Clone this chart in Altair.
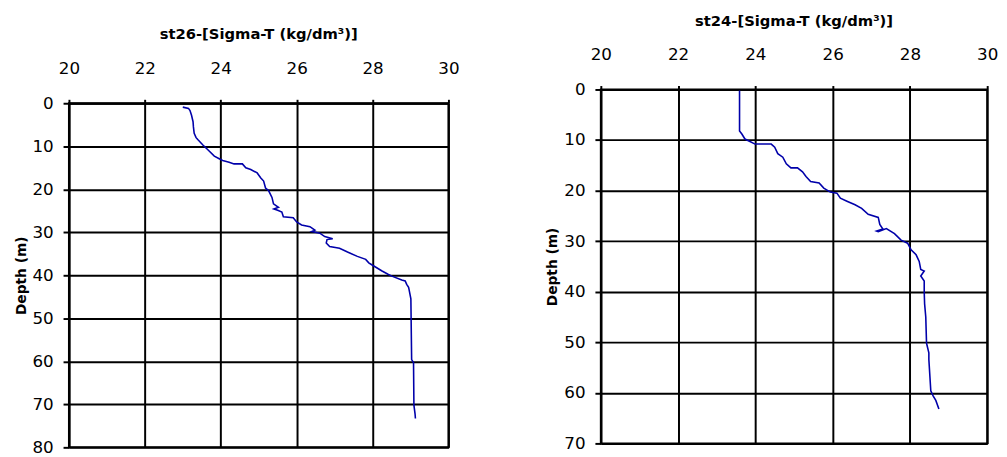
import altair as alt
import pandas as pd

# ---- data ----
x_ticks = [20, 22, 24, 26, 28, 30]
st26_depth_ticks = [0, 10, 20, 30, 40, 50, 60, 70, 80]
st24_depth_ticks = [0, 10, 20, 30, 40, 50, 60, 70]

st26_depth = [0.9, 1.2, 1.7, 2.8, 4.3, 5.5, 7.0, 8.0, 8.5, 9.7, 10.8, 12.3, 12.9, 13.3,
              13.7, 14.1, 14.1, 15.0, 15.4, 16.2, 17.3, 18.1, 19.7, 20.3, 21.9, 23.4,
              24.2, 24.6, 24.9, 25.3, 26.4, 26.6, 27.6, 28.3, 28.7, 29.5, 29.8, 30.2,
              31.0, 31.5, 31.7, 32.5, 33.3, 33.7, 34.6, 35.6, 36.3, 37.1, 37.6, 39.0,
              39.8, 40.2, 41.1, 41.3, 42.1, 42.8, 43.2, 45.5, 59.6, 60.3, 70.2, 72.2, 73.3]
st26_sigma = [23.00, 23.15, 23.19, 23.23, 23.27, 23.28, 23.30, 23.35, 23.40, 23.53, 23.66,
              23.83, 23.96, 24.05, 24.22, 24.35, 24.57, 24.66, 24.79, 24.96, 25.05, 25.13,
              25.18, 25.26, 25.35, 25.39, 25.52, 25.40, 25.50, 25.61, 25.65, 25.91, 26.00,
              26.13, 26.35, 26.48, 26.40, 26.61, 26.74, 26.95, 26.80, 26.78, 26.87, 27.13,
              27.34, 27.60, 27.82, 27.90, 27.99, 28.25, 28.42, 28.51, 28.77, 28.86, 28.90,
              28.95, 28.96, 29.01, 29.03, 29.08, 29.09, 29.12, 29.13]

st24_depth = [0.2, 8.2, 8.8, 9.8, 10.3, 10.8, 10.8, 11.4, 12.7, 13.4, 14.7, 15.5, 15.5,
              16.3, 17.2, 18.2, 18.5, 19.5, 20.3, 20.5, 21.5, 22.1, 22.8, 23.5, 24.7,
              25.3, 26.7, 27.6, 28.0, 28.1, 27.5, 28.5, 29.8, 30.4, 31.7, 32.7, 34.0,
              35.6, 35.9, 36.9, 37.9, 40.1, 42.4, 45.0, 50.2, 52.1, 53.4, 59.6, 60.6,
              61.5, 63.2]
st24_sigma = [23.59, 23.59, 23.65, 23.73, 23.86, 23.99, 24.41, 24.50, 24.58, 24.71, 24.80,
              24.92, 25.09, 25.22, 25.31, 25.43, 25.65, 25.77, 25.94, 26.11, 26.20, 26.37,
              26.58, 26.75, 26.92, 27.18, 27.22, 27.30, 27.14, 27.18, 27.39, 27.60, 27.77,
              27.94, 28.03, 28.16, 28.24, 28.28, 28.37, 28.28, 28.37, 28.37, 28.38, 28.41,
              28.43, 28.49, 28.49, 28.54, 28.60, 28.67, 28.75]

st26_title = "st26-[Sigma-T (kg/dm³)]"
st24_title = "st24-[Sigma-T (kg/dm³)]"
y_title = "Depth (m)"


def panel(depth, sigma, title, ymax, yticks, w, h):
    df = pd.DataFrame({"i": list(range(len(depth))), "depth": depth, "sigma": sigma})
    return alt.Chart(df).mark_line(color="#0000aa", strokeWidth=1.6).encode(
        x=alt.X("sigma:Q",
                scale=alt.Scale(domain=[20, 30], nice=False, zero=False),
                axis=alt.Axis(orient="top", values=x_ticks, title=None, tickSize=4,
                              labelPadding=22)),
        y=alt.Y("depth:Q",
                scale=alt.Scale(domain=[0, ymax], reverse=True, nice=False, zero=False),
                axis=alt.Axis(values=yticks, title=y_title, tickSize=6, labelPadding=10,
                              titlePadding=4)),
        order=alt.Order("i:Q"),
    ).properties(width=w, height=h, title=title)


def spacer(w, h):
    # empty, invisible block that only sets where a column starts vertically
    empty = pd.DataFrame({"s": pd.Series([], dtype=str)})
    return alt.Chart(empty).mark_text().encode(
        text="s:N"
    ).properties(width=w, height=h,
                 view=alt.ViewBackground(stroke="transparent", strokeWidth=0))


left = panel(st26_depth, st26_sigma, st26_title, 80, st26_depth_ticks, 386, 350)
right = panel(st24_depth, st24_sigma, st24_title, 70, st24_depth_ticks, 393, 360)

left_col = alt.vconcat(spacer(386, 15), left, spacing=0)
right_col = alt.vconcat(spacer(393, 1), right, spacing=0)

chart = alt.hconcat(left_col, right_col, spacing=86).properties(
    padding={"left": 5, "top": 0, "right": 0, "bottom": 0},
    background="white",
).configure_view(
    stroke="black", strokeWidth=2
).configure_axis(
    grid=True, gridColor="black", gridWidth=2, gridOpacity=1,
    domainColor="black", domainWidth=2,
    tickColor="black", tickWidth=2,
    labelFont="DejaVu Sans", labelFontSize=17, labelColor="black",
    labelFlush=False, labelOverlap=False,
    titleFont="DejaVu Sans", titleFontSize=14, titleFontWeight="bold", titleColor="black",
).configure_title(
    font="DejaVu Sans", fontSize=15, fontWeight="bold", color="black",
    offset=18, anchor="middle",
)

chart.save("out.html", embed_options={"renderer": "svg", "actions": False})
